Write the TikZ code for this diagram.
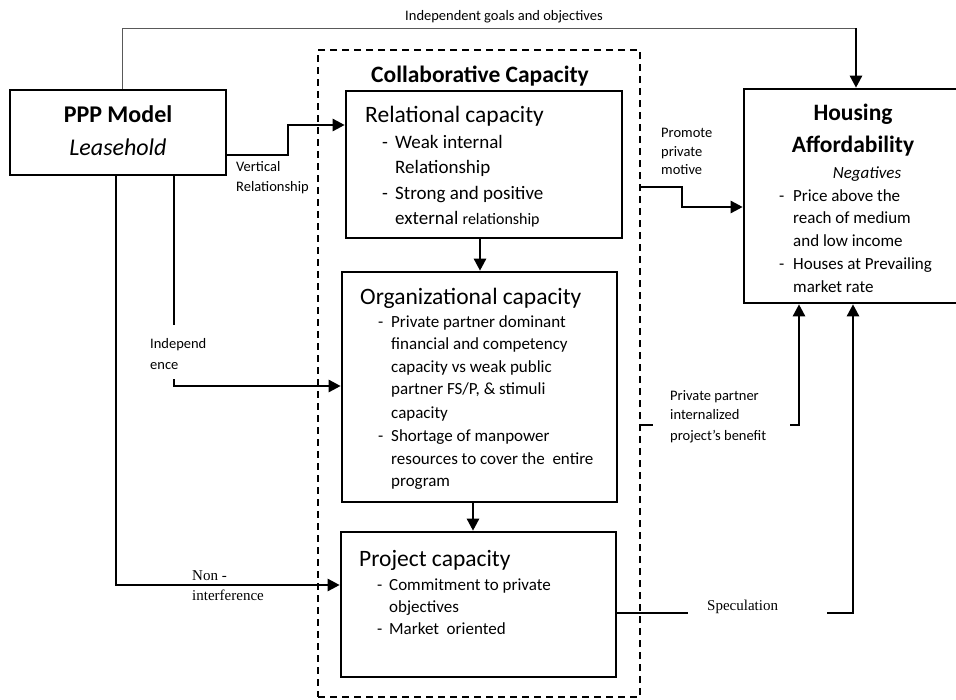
\documentclass[tikz,border=0pt]{standalone}
\usepackage{fontspec}
\setmainfont{Carlito}
\newfontfamily\tnr{Liberation Serif}
\usetikzlibrary{arrows.meta}
\begin{document}
\begin{tikzpicture}[x=1pt,y=-1pt,
  box/.style={draw, line width=2.6pt, rectangle, inner sep=0pt},
  dbox/.style={draw, line width=2.2pt, dash pattern=on 7pt off 5pt, rectangle, inner sep=0pt},
  arr/.style={line width=2.5pt, -{Triangle[length=12pt,width=12pt]}},
  ln/.style={line width=2.5pt},
  thinln/.style={line width=1pt, draw=black!65},
  txt/.style={inner sep=0pt, anchor=base west},
  ctxt/.style={inner sep=0pt, anchor=base},
  ttl/.style={font=\fontsize{23.5}{28}\selectfont},
  btl/.style={font=\fontsize{23.5}{28}\selectfont\bfseries},
  bul/.style={font=\fontsize{17}{21}\selectfont},
  rbul/.style={font=\fontsize{19}{23}\selectfont},
  sml/.style={font=\fontsize{14.5}{17}\selectfont},
  ser/.style={font=\fontsize{15}{18}\selectfont\tnr}
]
\useasboundingbox (0,0) rectangle (956,699);

% boxes
\node[box, minimum width=216pt, minimum height=85pt] (ppp) at (118,132.5) {};
\node[dbox, minimum width=322pt, minimum height=647pt] (coll) at (479,373.5) {};
\node[box, minimum width=276pt, minimum height=147pt] (rel) at (484,164.5) {};
\node[box, minimum width=275pt, minimum height=230pt] (org) at (479.5,387) {};
\node[box, minimum width=275pt, minimum height=145pt] (proj) at (478.5,604.5) {};
\node[box, minimum width=250pt, minimum height=214pt] (hous) at (869,196) {};

% texts: PPP
\node[ctxt, font=\fontsize{24}{28}\selectfont\bfseries] (pppt) at (118,122) {PPP Model};
\node[ctxt, font=\fontsize{24}{28}\selectfont\itshape] (pppl) at (118,155) {Leasehold};

% collaborative
\node[ctxt, btl] (collt) at (480,82) {Collaborative Capacity};

% relational
\node[txt, ttl] (relt) at (365,122) {Relational capacity};
\node[txt, rbul] (r1d) at (382,148) {-};
\node[txt, rbul] (r1) at (395,148) {Weak internal};
\node[txt, rbul] (r2) at (395,173) {Relationship};
\node[txt, rbul] (r3d) at (382,199) {-};
\node[txt, rbul] (r3) at (395,199) {Strong and positive};
\node[txt, rbul] (r4) at (395,224) {external {\fontsize{16}{19}\selectfont relationship}};

% organizational
\node[txt, ttl] (orgt) at (360,304) {Organizational capacity};
\node[txt, bul] (o1d) at (378,327) {-};
\node[txt, bul] (o1) at (391,327) {Private partner dominant};
\node[txt, bul] (o2) at (391,349) {financial and competency};
\node[txt, bul] (o3) at (391,372) {capacity vs weak public};
\node[txt, bul] (o4) at (391,394) {partner FS/P, \& stimuli};
\node[txt, bul] (o5) at (391,418) {capacity};
\node[txt, bul] (o6d) at (378,441) {-};
\node[txt, bul] (o6) at (391,441) {Shortage of manpower};
\node[txt, bul] (o7) at (391,464) {resources to cover the\ \ entire};
\node[txt, bul] (o8) at (391,486) {program};

% project
\node[txt, ttl] (projt) at (359,566) {Project capacity};
\node[txt, bul] (p1d) at (377,590) {-};
\node[txt, bul] (p1) at (389,590) {Commitment to private};
\node[txt, bul] (p2) at (389,612) {objectives};
\node[txt, bul] (p3d) at (377,634) {-};
\node[txt, bul] (p3) at (389,634) {Market\ \ oriented};

% housing
\node[ctxt, btl] (h1) at (853,120) {Housing};
\node[ctxt, btl] (h2) at (853,152) {Affordability};
\node[ctxt, font=\fontsize{17}{21}\selectfont\itshape] (h3) at (867,178) {Negatives};
\node[txt, bul] (h4d) at (779,201) {-};
\node[txt, bul] (h4) at (793,201) {Price above the};
\node[txt, bul] (h5) at (793,223) {reach of medium};
\node[txt, bul] (h6) at (793,246) {and low income};
\node[txt, bul] (h7d) at (779,269) {-};
\node[txt, bul] (h7) at (793,269) {Houses at Prevailing};
\node[txt, bul] (h8) at (793,292) {market rate};

% small labels
\node[ctxt, sml] (lgoal) at (504,20) {Independent goals and objectives};
\node[txt, sml] (lv1) at (236,171) {Vertical};
\node[txt, sml] (lv2) at (236,191) {Relationship};
\node[txt, sml] (lp1) at (661,137) {Promote};
\node[txt, sml] (lp2) at (661,156) {private};
\node[txt, sml] (lp3) at (661,174) {motive};
\node[txt, sml] (li1) at (150,348) {Independ};
\node[txt, sml] (li2) at (150,369) {ence};
\node[txt, sml] (lq1) at (670,400) {Private partner};
\node[txt, sml] (lq2) at (670,419) {internalized};
\node[txt, sml] (lq3) at (670,440) {project’s benefit};
\node[txt, ser] (ln1) at (192,580) {Non -};
\node[txt, ser] (ln2) at (192,600) {interference};
\node[txt, ser] (lsp) at (707,610) {Speculation};

% coordinates for connectors
\coordinate (tl) at (122,28);
\coordinate (tr) at (856,28);
\coordinate (vr1) at (288,155);
\coordinate (vr2) at (288,125);
\coordinate (ax1) at (480,0);
\coordinate (ax2) at (473,0);
\coordinate (ind1) at (174,325);
\coordinate (ind2) at (174,379);
\coordinate (ind3) at (174,386);
\coordinate (ni) at (116,585);
\coordinate (pm1) at (682,187);
\coordinate (pm2) at (682,207);
\coordinate (pp0) at (653,425);
\coordinate (pp1) at (790,425);
\coordinate (pp2) at (799,425);
\coordinate (sp0) at (688,613);
\coordinate (sp1) at (827,613);
\coordinate (sp2) at (853,613);

% connectors
\draw[thinln] (ppp.north -| tl) -- (tl) -- (tr);
\draw[arr] (tr) -- (tr |- hous.north);
\draw[arr] (ppp.east |- vr1) -- (vr1) -- (vr2) -- (rel.west |- vr2);
\draw[arr] (rel.south -| ax1) -- (org.north -| ax1);
\draw[arr] (org.south -| ax2) -- (proj.north -| ax2);
\draw[ln] (ppp.south -| ind1) -- (ind1);
\draw[arr] (ind2) -- (ind3) -- (org.west |- ind3);
\draw[arr] (ppp.south -| ni) -- (ni) -- (proj.west |- ni);
\draw[arr] (coll.east |- pm1) -- (pm1) -- (pm2) -- (hous.west |- pm2);
\draw[ln] (coll.east |- pp0) -- (pp0);
\draw[arr] (pp1) -- (pp2) -- (hous.south -| pp2);
\draw[ln] (proj.east |- sp0) -- (sp0);
\draw[arr] (sp1) -- (sp2) -- (hous.south -| sp2);
\end{tikzpicture}
\end{document}
